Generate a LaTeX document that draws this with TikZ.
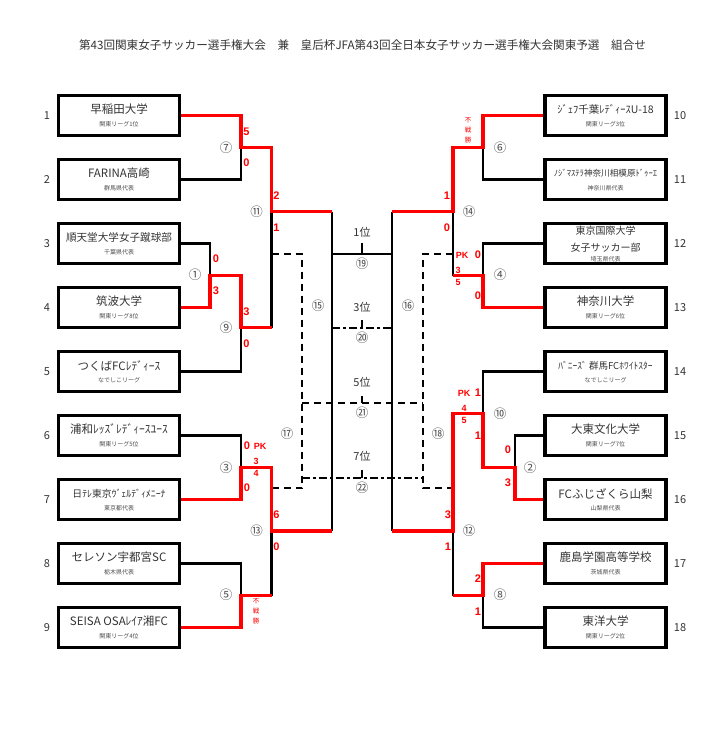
\documentclass[tikz,border=0pt]{standalone}
\usepackage{fontspec}
\setmainfont{Noto Sans CJK JP}
\newfontfamily\scfont{Liberation Sans}
\usetikzlibrary{positioning}

\begin{document}
\begin{tikzpicture}[x=1pt,y=-1pt,
	team/.style={draw,line width=3.2pt,minimum width=121pt,minimum height=40pt},
	lose/.style={line width=2.6pt},
	win/.style={line width=3.3pt,red},
	dsh/.style={line width=2.6pt,dash pattern=on 7pt off 5pt},
	ddot/.style={line width=2.6pt,dash pattern=on 8pt off 3pt on 3pt off 3pt},
	sc/.style={text=red,font=\scfont\bfseries\fontsize{11}{11}\selectfont},
	pk/.style={text=red,font=\scfont\bfseries\fontsize{9}{9}\selectfont},
	fs/.style={text=red,align=center,font=\fontsize{6.5}{10}\selectfont},
	no/.style={text=black!70,font=\fontsize{12.5}{12.5}\selectfont},
	lbl/.style={text=black!80,font=\fontsize{11}{11}\selectfont}]
		\useasboundingbox (0,0) rectangle (725,730);
		\node[lbl,font=\fontsize{11.6}{11.6}\selectfont] (title) at (362.5,45) {第43回関東女子サッカー選手権大会　兼　皇后杯JFA第43回全日本女子サッカー選手権大会関東予選　組合せ};

		\foreach \n/\tname/\tsub/\sz [count=\i from 0] in {
			1/早稲田大学/関東リーグ1位/11.5,
			2/FARINA高崎/群馬県代表/11.5,
			3/順天堂大学女子蹴球部/千葉県代表/10.6,
			4/筑波大学/関東リーグ8位/11.5,
			5/つくばFCﾚﾃﾞｨｰｽ/なでしこリーグ/11.5,
			6/浦和ﾚｯｽﾞﾚﾃﾞｨｰｽﾕｰｽ/関東リーグ5位/11.5,
			7/日ﾃﾚ東京ｳﾞｪﾙﾃﾞｨﾒﾆｰﾅ/東京都代表/9.8,
			8/セレソン宇都宮SC/栃木県代表/11.5,
			9/SEISA OSAﾚｲｱ湘FC/関東リーグ4位/11.5}
		{
			\node[team] (t\n) at (119,115.5+64*\i) {};
			\node[text=black!80,font=\fontsize{\sz}{17}\selectfont] at ([yshift=6pt]t\n.center) {\tname};
			\node[text=black!70,font=\fontsize{6}{6}\selectfont] at ([yshift=-8.5pt]t\n.center) {\tsub};
			\node[lbl] at (47,115.5+64*\i) {\n};
		}
		\foreach \n/\tname/\tsub/\sz/\dn/\ds [count=\i from 0] in {
			10/ｼﾞｪﾌ千葉ﾚﾃﾞｨｰｽU-18/関東リーグ3位/10.5/6/8.5,
			11/ﾉｼﾞﾏｽﾃﾗ神奈川相模原ﾄﾞｩｰｴ/神奈川県代表/8.6/6/8.5,
			12/{東京国際大学\\女子サッカー部}/埼玉県代表/10/4/15.5,
			13/神奈川大学/関東リーグ6位/11.5/6/8.5,
			14/ﾊﾞﾆｰｽﾞ 群馬FCﾎﾜｲﾄｽﾀｰ/なでしこリーグ/9.5/6/8.5,
			15/大東文化大学/関東リーグ7位/11.5/6/8.5,
			16/FCふじざくら山梨/山梨県代表/11.5/6/8.5,
			17/鹿島学園高等学校/茨城県代表/11.5/6/8.5,
			18/東洋大学/関東リーグ2位/11.5/6/8.5}
		{
			\node[team] (t\n) at (605.5,115.5+64*\i) {};
			\node[text=black!80,align=center,font=\fontsize{\sz}{17}\selectfont] at ([yshift=\dn pt]t\n.center) {\tname};
			\node[text=black!70,font=\fontsize{6}{6}\selectfont] at ([yshift=-\ds pt]t\n.center) {\tsub};
			\node[lbl] at (680,115.5+64*\i) {\n};
		}

		\coordinate (m7) at (241,147.5);
		\coordinate (m1) at (210,275.5);
		\coordinate (m9) at (241,327.5);
		\coordinate (m11) at (271.5,211.5);
		\coordinate (m3) at (241,467.5);
		\coordinate (m5) at (241,595.5);
		\coordinate (m13) at (271.5,531);
		\coordinate (m6) at (483,147.5);
		\coordinate (m4) at (483,275.5);
		\coordinate (m14) at (453,211.5);
		\coordinate (m2) at (515,467.5);
		\coordinate (m10) at (483,413.5);
		\coordinate (m8) at (483,595.5);
		\coordinate (m12) at (453,531);
		\coordinate (s1) at (332,211.5);
		\coordinate (s2) at (332,531);
		\coordinate (s3) at (392,211.5);
		\coordinate (s4) at (392,531);
		\coordinate (f1) at (332,254);
		\coordinate (f2) at (392,254);
		\coordinate (d1) at (302,254);
		\coordinate (d2) at (302,488);
		\coordinate (d3) at (423,254);
		\coordinate (d4) at (423,488);
		\coordinate (c19) at (362,254);
		\coordinate (c20) at (362,328);
		\coordinate (c21) at (362,403);
		\coordinate (c22) at (362,478);

		\draw[dsh] (m11 |- d1) -- (d1) -- (d2) -- (m13 |- d2);
		\draw[dsh] (m14 |- d3) -- (d3) -- (d4) -- (m12 |- d4);
		\draw[ddot] (s1 |- c20) -- (s3 |- c20);
		\draw[dsh] (d1 |- c21) -- (d3 |- c21);
		\draw[ddot] (d1 |- c22) -- (d3 |- c22);
		\draw[ddot] (c20) -- ++(0,-10);
		\draw[dsh] (c21) -- ++(0,-11);
		\draw[ddot] (c22) -- ++(0,-10);

		\draw[lose] (t2.east) -| (m7);
		\draw[lose] (t3.east) -| (m1);
		\draw[lose] (t5.east) -| (m9);
		\draw[lose] (m9 -| m11) -- (m11);
		\draw[lose] (t6.east) -| (m3);
		\draw[lose] (t8.east) -| (m5);
		\draw[lose] (m5 -| m13) -- (m13);
		\draw[lose] (t11.west) -| (m6);
		\draw[lose] (t12.west) -| (m4);
		\draw[lose] (m4 -| m14) -- (m14);
		\draw[lose] (t14.west) -| (m10);
		\draw[lose] (t15.west) -| (m2);
		\draw[lose] (t18.west) -| (m8);
		\draw[lose] (m8 -| m12) -- (m12);
		\draw[lose] (s1) -- (s2);
		\draw[lose] (s3) -- (s4);
		\draw[lose] (f1) -- (f2);
		\draw[lose] (c19) -- ++(0,-11);

		\draw[win] (t1.east) -| (m7) -| (m11) -- (s1);
		\draw[win] (t4.east) -| (m1) -| (m9) -- (m9 -| m11);
		\draw[win] (t7.east) -| (m3) -| (m13) -- (s2);
		\draw[win] (t9.east) -| (m5) -- (m5 -| m13);
		\draw[win] (t10.west) -| (m6) -| (m14) -- (s3);
		\draw[win] (t13.west) -| (m4) -- (m4 -| m14);
		\draw[win] (t16.west) -| (m2) -| (m10) -| (m12) -- (s4);
		\draw[win] (t17.west) -| (m8) -- (m8 -| m12);

		\node[no] at (226,147.5) {⑦};
		\node[no] at (195,275) {①};
		\node[no] at (226,327.5) {⑨};
		\node[no] at (256.5,211.5) {⑪};
		\node[no] at (226,467.5) {③};
		\node[no] at (226,595) {⑤};
		\node[no] at (256.5,530.5) {⑬};
		\node[no] at (287,434) {⑰};
		\node[no] at (318,306) {⑮};
		\node[no] at (408,306) {⑯};
		\node[no] at (438,434) {⑱};
		\node[no] at (362,263.5) {⑲};
		\node[no] at (362,338) {⑳};
		\node[no] at (362,413) {㉑};
		\node[no] at (362,487.5) {㉒};
		\node[no] at (500,147.5) {⑥};
		\node[no] at (469,211.5) {⑭};
		\node[no] at (500,275) {④};
		\node[no] at (500,414) {⑩};
		\node[no] at (530,467.5) {②};
		\node[no] at (469,531) {⑫};
		\node[no] at (500,595) {⑧};

		\node[lbl] at (362,232) {1位};
		\node[lbl] at (362,307) {3位};
		\node[lbl] at (362,382) {5位};
		\node[lbl] at (362,456) {7位};

		\node[sc] at (246.5,131.5) {5};
		\node[sc] at (246.5,163) {0};
		\node[sc] at (276.5,195.5) {2};
		\node[sc] at (276.5,228) {1};
		\node[sc] at (216,259) {0};
		\node[sc] at (216,291) {3};
		\node[sc] at (246.5,312) {3};
		\node[sc] at (246.5,343.5) {0};
		\node[sc] at (247,446) {0};
		\node[pk] at (260,446) {PK};
		\node[pk] at (256,461) {3};
		\node[pk] at (256,473) {4};
		\node[sc] at (247,488) {0};
		\node[sc] at (276.5,515) {6};
		\node[sc] at (276.5,547) {0};
		\node[fs] at (256,611.5) {不\\戦\\勝};

		\node[fs] at (468,130.5) {不\\戦\\勝};
		\node[sc] at (447,195.5) {1};
		\node[sc] at (447,228) {0};
		\node[sc] at (478,254.5) {0};
		\node[pk] at (462,255) {PK};
		\node[pk] at (458,270) {3};
		\node[pk] at (458,282) {5};
		\node[sc] at (478,296) {0};
		\node[pk] at (464,393) {PK};
		\node[sc] at (478,393) {1};
		\node[pk] at (464,408) {4};
		\node[pk] at (464,420) {5};
		\node[sc] at (478,436) {1};
		\node[sc] at (508,450) {0};
		\node[sc] at (508,483) {3};
		\node[sc] at (448,514.5) {3};
		\node[sc] at (448,547) {1};
		\node[sc] at (478,579) {2};
		\node[sc] at (478,612) {1};
	\end{tikzpicture}
\end{document}
